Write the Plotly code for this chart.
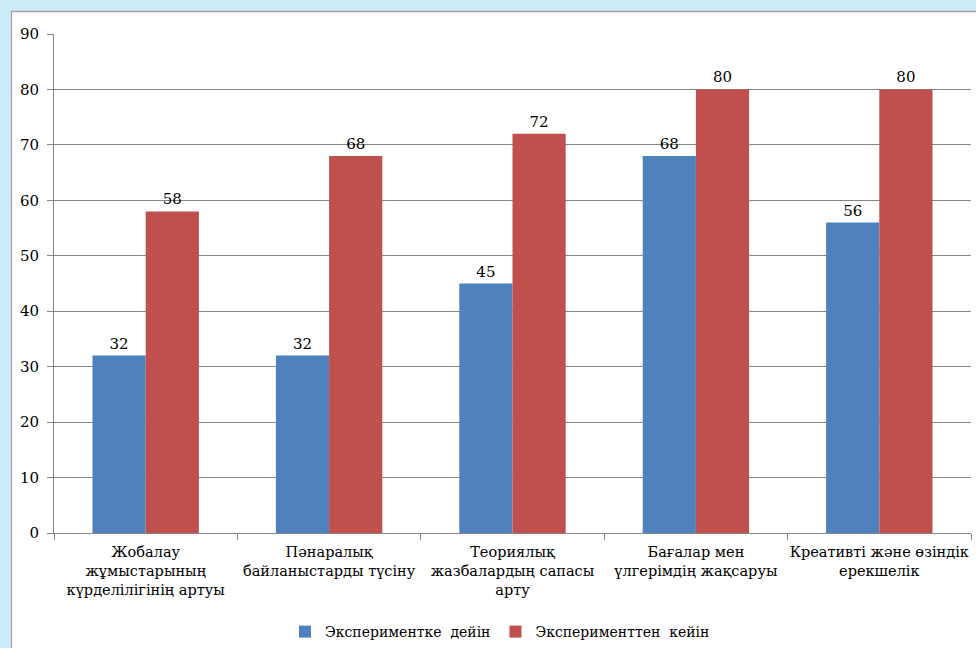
import plotly.graph_objects as go

categories = [
    "Жобалау<br>жұмыстарының<br>күрделілігінің артуы",
    "Пәнаралық<br>байланыстарды түсіну",
    "Теориялық<br>жазбалардың сапасы<br>арту",
    "Бағалар мен<br>үлгерімдің жақсаруы",
    "Креативті және өзіндік<br>ерекшелік",
]
before = [32, 32, 45, 68, 56]
after = [58, 68, 72, 80, 80]
series_names = ["Экспериментке  дейін", "Эксперименттен  кейін"]
y_ticks = [0, 10, 20, 30, 40, 50, 60, 70, 80, 90]

FONT = "DejaVu Serif, Liberation Serif, serif"
W, H = 976, 648
ML, MR, MT, MB = 54, 5, 34, 115
pw, ph = W - ML - MR, H - MT - MB


def px_x(x):
    return (x - ML) / pw


def px_y(y):
    return (H - MB - y) / ph


fig = go.Figure()
for name, vals, color in [(series_names[0], before, "#4F81BD"),
                          (series_names[1], after, "#C0504D")]:
    fig.add_trace(go.Bar(
        x=categories, y=vals, name=name, marker_color=color,
        marker_line_width=0,
        text=[str(v) for v in vals], textposition="outside",
        textfont=dict(family=FONT, size=15, color="#000000"),
        cliponaxis=False,
    ))

# white chart frame on the light blue page
fig.add_shape(type="rect", xref="paper", yref="paper",
              x0=px_x(11.5), x1=px_x(990), y0=px_y(670), y1=px_y(11.5),
              fillcolor="white", line=dict(color="#A6A6A6", width=1.3),
              layer="below")

fig.update_layout(
    width=W, height=H,
    margin=dict(l=ML, r=MR, t=MT, b=MB, autoexpand=False),
    paper_bgcolor="#CCEAF7",
    plot_bgcolor="white",
    barmode="group",
    bargap=0.42,
    bargroupgap=0,
    font=dict(family=FONT, size=14, color="#000000"),
    showlegend=True,
    legend=dict(orientation="h", x=px_x(500), xanchor="center",
                y=px_y(632), yanchor="middle",
                font=dict(family=FONT, size=14, color="#000000"),
                bgcolor="rgba(0,0,0,0)", itemwidth=30,
                traceorder="normal"),
)
fig.update_xaxes(
    type="category", tickson="boundaries", ticks="outside", ticklen=6,
    tickcolor="#868686", showline=True, linecolor="#868686", linewidth=1,
    showgrid=False, tickfont=dict(family=FONT, size=14.5, color="#000000"),
    range=[-0.5, 4.5], automargin=False, tickangle=0, ticklabelstandoff=6,
)
fig.update_yaxes(
    range=[0, 90], tickvals=y_ticks, ticks="outside", ticklen=6,
    tickcolor="#868686", showline=True, linecolor="#868686", linewidth=1,
    showgrid=True, gridcolor="#868686", gridwidth=1,
    zeroline=False, ticklabelstandoff=5, automargin=False,
    tickfont=dict(family=FONT, size=15, color="#000000"),
)

fig.write_html("out.html")
